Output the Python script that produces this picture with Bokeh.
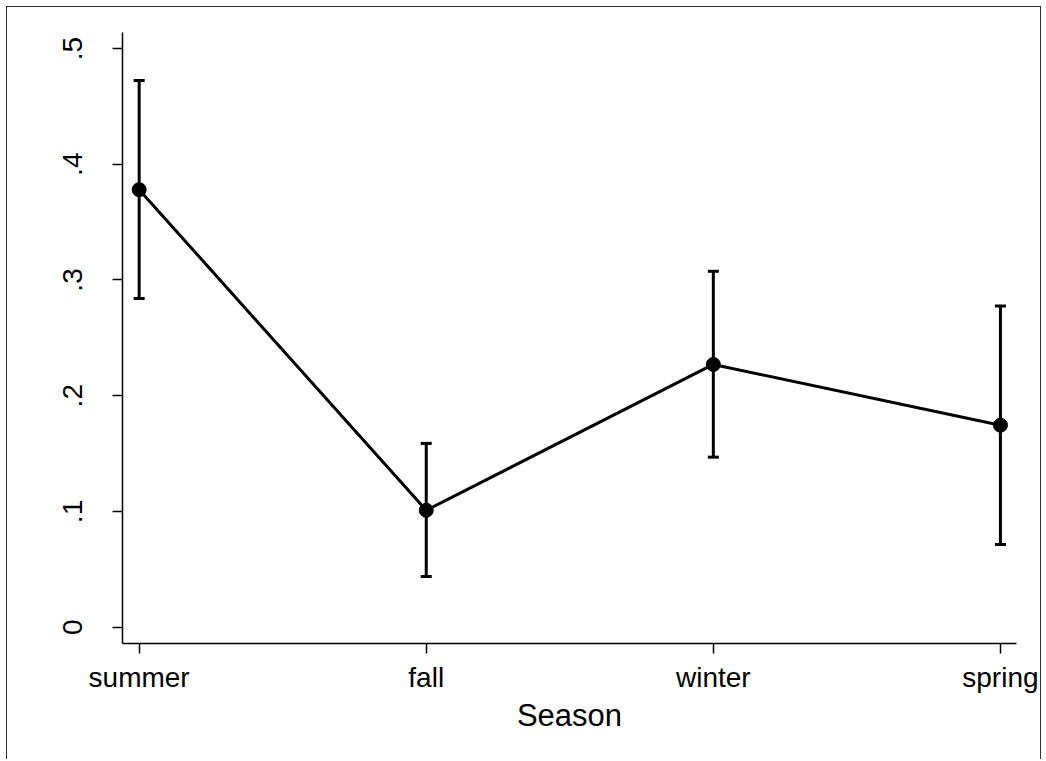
from bokeh.plotting import figure
from bokeh.models import ColumnDataSource, FixedTicker, Whisker, TeeHead, CustomJSTickFormatter
from bokeh.embed import file_html
from bokeh.resources import INLINE

seasons = ["summer", "fall", "winter", "spring"]
xpos = [0, 1, 2, 3]
means = [0.378, 0.101, 0.227, 0.1745]
lower = [0.284, 0.0438, 0.1469, 0.0715]
upper = [0.4724, 0.1588, 0.3075, 0.2774]
yticks = [0, 0.1, 0.2, 0.3, 0.4, 0.5]

src = ColumnDataSource(dict(x=xpos, m=means, lo=lower, hi=upper))

p = figure(width=1035, height=753, output_backend="svg", toolbar_location=None,
           x_range=(-0.058, 3.056), y_range=(-0.0141, 0.5138),
           min_border_left=115, min_border_right=26, min_border_top=25, min_border_bottom=117,
           styles={"border": "1px solid #333333", "border-bottom": "none",
                   "margin-left": "6px", "margin-top": "6px"})
p.outline_line_color = None
p.grid.visible = False
p.background_fill_color = "white"
p.border_fill_color = "white"

w = Whisker(source=src, base="x", lower="lo", upper="hi", line_width=3, line_color="black",
            upper_head=TeeHead(size=11, line_width=3, line_color="black"),
            lower_head=TeeHead(size=11, line_width=3, line_color="black"))
p.add_layout(w)
p.line("x", "m", source=src, line_width=3, line_color="black")
p.scatter("x", "m", source=src, size=14, fill_color="black", line_color="black")

xa = p.xaxis[0]
xa.ticker = FixedTicker(ticks=xpos)
xa.major_label_overrides = {i: s for i, s in zip(xpos, seasons)}
xa.axis_label = "Season"
ya = p.yaxis[0]
ya.ticker = FixedTicker(ticks=yticks)
ya.formatter = CustomJSTickFormatter(code="return tick == 0 ? '0' : tick.toFixed(1).replace(/^0/, '');")
ya.major_label_orientation = "vertical"

for ax in (xa, ya):
    ax.axis_line_color = "black"
    ax.axis_line_width = 1.5
    ax.major_tick_line_color = "black"
    ax.major_tick_line_width = 1.5
    ax.major_tick_out = 10
    ax.major_tick_in = 0
    ax.minor_tick_line_color = None
    ax.major_label_text_font = "Liberation Sans"
    ax.major_label_text_font_size = "28px"
    ax.major_label_text_color = "black"
    ax.axis_label_text_font = "Liberation Sans"
    ax.axis_label_text_font_size = "31px"
    ax.axis_label_text_font_style = "normal"
    ax.axis_label_text_color = "black"
xa.major_label_standoff = 8
xa.axis_label_standoff = 2
ya.major_label_standoff = 30

open("out.html", "w").write(file_html(p, INLINE))
